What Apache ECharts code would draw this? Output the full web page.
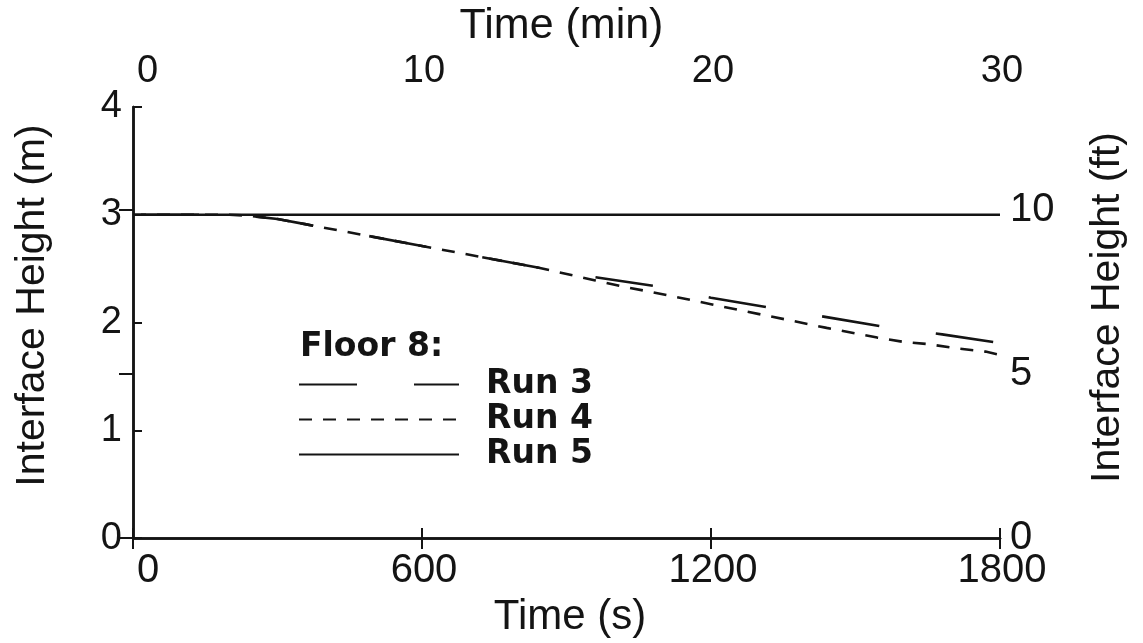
<!DOCTYPE html>
<html>
<head>
<meta charset="utf-8">
<script src="https://cdn.jsdelivr.net/npm/echarts@6/dist/echarts.min.js"></script>
<style>html,body{margin:0;padding:0;background:#fff;}#c{width:1143px;height:643px;}</style>
</head>
<body>
<div id="c"></div>
<script>
// Time (s)
const run3Time = [0, 200, 240, 300, 360, 480, 600, 720, 840, 960, 1080, 1200, 1320, 1440, 1560, 1680, 1800];
const run3Height = [3.0, 3.0, 2.99, 2.96, 2.91, 2.81, 2.71, 2.61, 2.51, 2.42, 2.34, 2.23, 2.14, 2.05, 1.96, 1.89, 1.81];
const run4Time = [0, 200, 240, 300, 360, 480, 600, 720, 840, 960, 1020, 1080, 1200, 1275, 1320, 1440, 1545, 1600, 1650, 1710, 1770, 1800];
const run4Height = [3.0, 3.0, 2.99, 2.96, 2.91, 2.81, 2.71, 2.61, 2.51, 2.39, 2.33, 2.28, 2.17, 2.10, 2.06, 1.95, 1.86, 1.82, 1.80, 1.76, 1.73, 1.70];
const run5Time = [0, 1800];
const run5Height = [3.0, 3.0];
const seriesNames = ['Run 3', 'Run 4', 'Run 5'];
const legendTitle = 'Floor 8:';

const zip = (a, b) => a.map((v, i) => [v, b[i]]);
const ink = '#141414';
const reg = '"Liberation Sans", Arial, sans-serif';
const bold = '"DejaVu Sans", sans-serif';
const plain = v => String(v);

const chart = echarts.init(document.getElementById('c'));
chart.setOption({
  backgroundColor: '#fff',
  animation: false,
  grid: { left: 133, right: 143, top: 99, bottom: 102 },
  title: {
    text: legendTitle, left: 300, top: 331, padding: 0,
    textStyle: { fontFamily: bold, fontWeight: 'bold', fontSize: 33, color: ink }
  },
  legend: {
    orient: 'vertical', left: 298, top: 368, padding: 0,
    itemWidth: 160, itemHeight: 22, itemGap: 2,
    data: seriesNames,
    itemStyle: { opacity: 0 },
    lineStyle: { dashOffset: 0 },
    textStyle: { fontFamily: bold, fontWeight: 'bold', fontSize: 33, color: ink, padding: [0, 0, 0, 22] },
    inactiveColor: ink
  },
  xAxis: [
    {
      type: 'value', position: 'bottom', min: 0, max: 1800, interval: 600,
      axisLine: { lineStyle: { color: ink, width: 2.5 } },
      axisTick: { inside: true, length: 10, lineStyle: { color: ink, width: 2 } },
      axisLabel: { fontFamily: reg, fontSize: 40, color: ink, margin: 13, alignMinLabel: 'left', formatter: plain, padding: [0, 0, 0, 4] },
      splitLine: { show: false },
      name: 'Time (s)', nameLocation: 'middle', nameGap: 53,
      nameTextStyle: { fontFamily: reg, fontSize: 42, color: ink, padding: [0, 0, 0, 7] }
    },
    {
      type: 'value', position: 'top', min: 0, max: 30, interval: 10,
      axisLine: { lineStyle: { color: ink, width: 2.5 } },
      axisTick: { inside: true, length: 11, lineStyle: { color: ink, width: 2 } },
      axisLabel: { fontFamily: reg, fontSize: 38, color: ink, margin: 16, alignMinLabel: 'left', formatter: plain, padding: [0, 0, 0, 4] },
      splitLine: { show: false },
      name: 'Time (min)', nameLocation: 'middle', nameGap: 50,
      nameTextStyle: { fontFamily: reg, fontSize: 43, color: ink, padding: [0, 10, 0, 0] }
    }
  ],
  yAxis: [
    {
      type: 'value', position: 'left', min: 0, max: 4, interval: 1,
      axisLine: { lineStyle: { color: ink, width: 2.5 } },
      axisTick: { inside: true, length: 9, lineStyle: { color: ink, width: 2 } },
      axisLabel: { fontFamily: reg, fontSize: 38, color: ink, margin: 11, formatter: plain },
      splitLine: { show: false },
      name: 'Interface Height (m)', nameLocation: 'middle', nameGap: 80,
      nameTextStyle: { fontFamily: reg, fontSize: 41, color: ink, padding: [0, 0, 0, 34] }
    },
    {
      type: 'value', position: 'right', min: 0, max: 4 / 0.3048, interval: 5,
      axisLine: { lineStyle: { color: ink, width: 2.5 } },
      axisTick: { inside: true, length: 14, lineStyle: { color: ink, width: 2 } },
      axisLabel: { fontFamily: reg, fontSize: 40, color: ink, margin: 10, showMaxLabel: false, formatter: plain },
      splitLine: { show: false },
      name: 'Interface Height (ft)', nameLocation: 'middle', nameGap: 87,
      nameTextStyle: { fontFamily: reg, fontSize: 41, color: ink, padding: [0, 0, 0, 30] }
    }
  ],
  series: [
    {
      name: seriesNames[0], type: 'line', xAxisIndex: 0, yAxisIndex: 0, symbol: 'none',
      data: zip(run3Time, run3Height), color: ink,
      lineStyle: { color: ink, width: 2.6, type: [58, 57], dashOffset: 107 }
    },
    {
      name: seriesNames[1], type: 'line', xAxisIndex: 0, yAxisIndex: 0, symbol: 'none',
      data: zip(run4Time, run4Height), color: ink,
      lineStyle: { color: ink, width: 2.6, type: [13, 11] }
    },
    {
      name: seriesNames[2], type: 'line', xAxisIndex: 0, yAxisIndex: 0, symbol: 'none',
      data: zip(run5Time, run5Height), color: ink,
      lineStyle: { color: ink, width: 2.4, type: 'solid' }
    }
  ]
});
</script>
</body>
</html>
